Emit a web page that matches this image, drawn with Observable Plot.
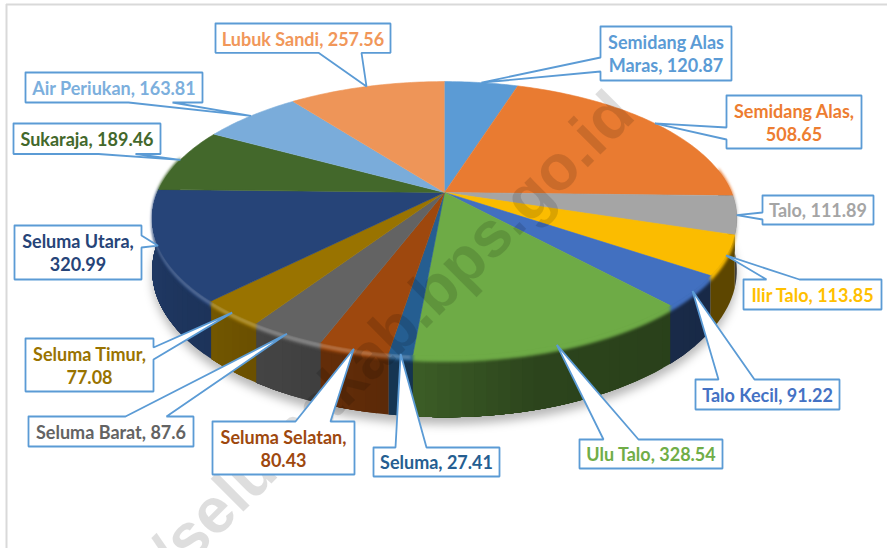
<!DOCTYPE html>
<html><head><meta charset="utf-8">
<script src="https://cdn.jsdelivr.net/npm/d3@7"></script>
<script src="https://cdn.jsdelivr.net/npm/@observablehq/plot@0.6"></script>
<style>
html,body{margin:0;padding:0;background:#fff}
</style></head><body><div id="chart"></div>
<script>
// ---- data (clockwise from the top of the pie) ----
const names = ["Semidang Alas Maras","Semidang Alas","Talo","Ilir Talo","Talo Kecil","Ulu Talo","Seluma","Seluma Selatan","Seluma Barat","Seluma Timur","Seluma Utara","Sukaraja","Air Periukan","Lubuk Sandi"];
const values = [120.87,508.65,111.89,113.85,91.22,328.54,27.41,80.43,87.6,77.08,320.99,189.46,163.81,257.56];
const colors = ["#5B9BD5","#E97B31","#A5A5A5","#FBBC00","#4270C0","#6EAB46","#255E91","#9E480E","#636363","#997300","#264478","#43682B","#7AACDA","#EE9558"];
const labelColors = ["#5B9BD5","#ED7D31","#A5A5A5","#FFC000","#4472C4","#70AD47","#255E91","#9E480E","#636363","#997300","#264478","#43682B","#7CAFDD","#F1975A"];
const wrapAfter = [2,2,null,null,null,null,null,2,null,2,2,null,null,null];

// ---- layout of the callouts: box [x1,y1,x2,y2], side carrying the tail, tail base [a,b] ----
const boxes = [[600,26,731,80],[726,95,861,148],[762,195,873,224],[743,279,881,309],[695,379,839,409],[579,439,722,468],[373,447,499,476],[212,421,354,474],[28,416,193,446],[25,338,153,391],[14,225,141,279],[13,123,160,153.5],[25,72,202,102],[215,23,390,52.3]];
const tailSide = ["left","left","left","top","top","top","top","top","top","right","right","bottom","bottom","bottom"];
const tailBase = [[57,71],[127,139],[212,219],[766,799],[718,754],[603,638],[395,426],[295,330],[125,166],[347,359],[235,247],[98,135],[128,172],[318,361]];

// ---- pie projection (perspective disc) ----
const W = 887, H = 548;
const cx = 444, cy = 192, R = 287, K = 132, P = 0.19, D = 50;
const total = d3.sum(values);
const cum = d3.cumsum(values);
const toDeg = c => c / total * 360;
function rim(deg, drop = 0) {
  const a = deg * Math.PI / 180, u = Math.sin(a), v = -Math.cos(a), s = 1 / (1 - P * v);
  return [cx + R * u * s, cy + K * v * s + drop * s];
}
const slices = values.map((v, i) => ({name: names[i], value: v, color: colors[i], a0: toDeg(i ? cum[i-1] : 0), a1: toDeg(cum[i])}));
const steps = (a0, a1, n = 2) => { const k = Math.max(1, Math.ceil((a1 - a0) / n)); return d3.range(k + 1).map(j => a0 + (a1 - a0) * j / k); };

// side shade: darkest to the lower right, lighter to the left
const shade = d3.scaleLinear().domain([130, 165, 190, 225, 250]).range([0.37, 0.40, 0.58, 0.75, 0.82]).clamp(true);
const rows = {top: [], side: [], bevel: [], shine: [], shadow: []};
let id = 0;
function poly(list, pts, fill) { const k = id++; pts.forEach(p => list.push({x: p[0], y: p[1], id: k, fill})); }
for (const s of slices) {
  poly(rows.top, [[cx, cy], ...steps(s.a0, s.a1, 1).map(a => rim(a))], s.color);
  if (s.a1 > 80 && s.a0 < 285) {
    // painter's order: each shade runs to the slice's end, the next one covers it (no seams)
    const end = Math.min(s.a1, 285), as = steps(Math.max(s.a0, 80), end, 2);
    let last = null;
    for (let j = 0; j < as.length - 1; j++) {
      const c = d3.rgb(s.color), f = shade(as[j] + 1);
      const col = d3.rgb(c.r * f, c.g * f, c.b * f).formatHex();
      if (col === last) continue;
      last = col;
      const arc = steps(as[j], end, 2);
      poly(rows.side, [...arc.map(a => rim(a)), ...arc.slice().reverse().map(a => rim(a, D))], col);
    }
    const bs = steps(Math.max(s.a0, 80), end, 2);
    poly(rows.bevel, [...bs.map(a => rim(a, -2)), ...bs.slice().reverse().map(a => rim(a, 5))], s.color);
  }
  if (s.a1 > 185.5 && s.a0 < 285) {
    const bs = steps(Math.max(s.a0, 185.5), Math.min(s.a1, 285), 2);
    poly(rows.shine, [...bs.map(a => rim(a, 1)), ...bs.slice().reverse().map(a => rim(a, 3.5))], d3.interpolateRgb(s.color, "#fff")(0.22));
  }
}
poly(rows.shadow, steps(80, 285, 3).map(a => rim(a, D + 6)).concat([[cx - 200, cy], [cx + 200, cy]]), "#000");

// ---- callouts ----
function calloutPath(i) {
  const [x1, y1, x2, y2] = boxes[i], [a, b] = tailBase[i];
  const mid = (slices[i].a0 + slices[i].a1) / 2, tip = rim(mid);
  const side = tailSide[i];
  if (side === "top") return [[x1,y1],[a,y1],tip,[b,y1],[x2,y1],[x2,y2],[x1,y2],[x1,y1]];
  if (side === "bottom") return [[x1,y1],[x2,y1],[x2,y2],[b,y2],tip,[a,y2],[x1,y2],[x1,y1]];
  if (side === "left") return [[x1,y1],[x2,y1],[x2,y2],[x1,y2],[x1,b],tip,[x1,a],[x1,y1]];
  return [[x1,y1],[x2,y1],[x2,a],tip,[x2,b],[x2,y2],[x1,y2],[x1,y1]];
}
const callouts = names.flatMap((n, i) => calloutPath(i).map(p => ({x: p[0], y: p[1], name: n})));
const labels = names.map((n, i) => {
  const text = `${n}, ${values[i]}`, w = text.split(" ");
  const str = wrapAfter[i] ? w.slice(0, wrapAfter[i]).join(" ") + "\n" + w.slice(wrapAfter[i]).join(" ") : text;
  return {text: str, x: (boxes[i][0] + boxes[i][2]) / 2, y: (boxes[i][1] + boxes[i][3]) / 2, color: labelColors[i]};
});
const watermark = [{x: 637, y: 117, text: "/selumakab.bps.go.id"}];

const polyMark = (list, sw) => Plot.line(list, {x: "x", y: "y", z: "id", fill: "fill", stroke: sw ? "fill" : "none", strokeWidth: sw || 0});

const chart = Plot.plot({
  width: W, height: H, marginTop: 0, marginRight: 0, marginBottom: 0, marginLeft: 0,
  x: {domain: [0, W], range: [0, W], axis: null},
  y: {domain: [0, H], range: [0, H], axis: null},
  color: {type: "identity"},
  style: {background: "#fff", overflow: "hidden"},
  marks: [
    Plot.ruleX([6], {y1: 4, y2: H, stroke: "#D9D9D9", strokeWidth: 2}),
    Plot.ruleY([4], {x1: 6, x2: W, stroke: "#D9D9D9", strokeWidth: 2}),
    Plot.line(rows.shadow, {x: "x", y: "y", z: "id", fill: "#000", fillOpacity: 0.28, stroke: "none"}),
    polyMark(rows.side),
    polyMark(rows.bevel, 0.6),
    polyMark(rows.shine, 0.6),
    polyMark(rows.top, 0.6),
    Plot.text(watermark, {x: "x", y: "y", text: "text", rotate: -45, fontSize: 64, fontWeight: 700, fontFamily: "Liberation Sans", textAnchor: "end", lineAnchor: "bottom", fill: "#000", fillOpacity: 0.13}),
    Plot.line(callouts, {x: "x", y: "y", z: "name", fill: "#fff", stroke: "#5B9BD5", strokeWidth: 1.8, strokeLinejoin: "miter"}),
    Plot.text(labels, {x: "x", y: "y", text: "text", fill: "color", fontFamily: "Lato", fontWeight: 700, fontSize: 18, lineHeight: 1.28, textAnchor: "middle"})
  ]
});
document.getElementById("chart").appendChild(chart);
const lineGroups = chart.querySelectorAll('g[aria-label="line"]');
if (lineGroups[0]) lineGroups[0].style.filter = "blur(5px)";
if (lineGroups[2]) lineGroups[2].style.filter = "blur(1.6px)";
if (lineGroups[3]) lineGroups[3].style.filter = "blur(1.2px)";
</script></body></html>
